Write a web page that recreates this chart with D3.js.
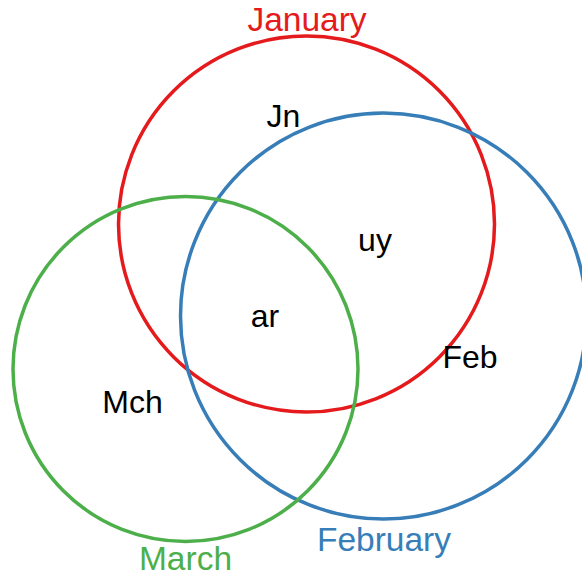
<!DOCTYPE html>
<html>
<head>
<meta charset="utf-8">
<script src="https://cdn.jsdelivr.net/npm/d3@7"></script>
<style>
  html, body { margin: 0; padding: 0; background: #fff; }
  svg { display: block; }
  text { font-family: "Liberation Sans", Arial, Helvetica, sans-serif; }
</style>
</head>
<body>
<div id="chart"></div>
<script>
// ---- data (layout units) ----
const setNames   = ["January", "February", "March"];
const setCx      = [3.065, 3.835, 1.855];
const setCy      = [2.240, 3.160, 3.690];
const setR       = [1.880, 2.030, 1.725];
const setLabelX  = [3.07, 3.84, 1.855];
const setLabelY  = [0.31, 5.51, 5.70];

const regionLabels = ["Jn", "uy", "ar", "Feb", "Mch"];
const regionX      = [2.835, 3.75, 2.65, 4.70, 1.325];
const regionY      = [1.27, 2.51, 3.27, 3.68, 4.13];

// ---- styles ----
const W = 582, H = 580;
const colors = ["#e41a1c", "#377eb8", "#4daf4a"];

const x = d3.scaleLinear().domain([0, 5.82]).range([0, W]);
const y = d3.scaleLinear().domain([0, 5.80]).range([0, H]);
const rs = d3.scaleLinear().domain([0, 5.82]).range([0, W]);

const svg = d3.select("#chart").append("svg")
  .attr("width", W).attr("height", H);

const sets = setNames.map((n, i) => ({
  name: n, cx: setCx[i], cy: setCy[i], r: setR[i],
  lx: setLabelX[i], ly: setLabelY[i], color: colors[i]
}));

svg.append("g").selectAll("circle")
  .data(sets).join("circle")
  .attr("cx", d => x(d.cx))
  .attr("cy", d => y(d.cy))
  .attr("r", d => rs(d.r))
  .attr("fill", "none")
  .attr("stroke", d => d.color)
  .attr("stroke-width", 3.5);

svg.append("g").selectAll("text")
  .data(sets).join("text")
  .attr("x", d => x(d.lx))
  .attr("y", d => y(d.ly))
  .attr("text-anchor", "middle")
  .attr("font-size", 33.5)
  .attr("fill", d => d.color)
  .text(d => d.name);

const regions = regionLabels.map((t, i) => ({ t, x: regionX[i], y: regionY[i] }));
svg.append("g").selectAll("text")
  .data(regions).join("text")
  .attr("x", d => x(d.x))
  .attr("y", d => y(d.y))
  .attr("text-anchor", "middle")
  .attr("font-size", 32)
  .attr("fill", "#000")
  .text(d => d.t);
</script>
</body>
</html>
